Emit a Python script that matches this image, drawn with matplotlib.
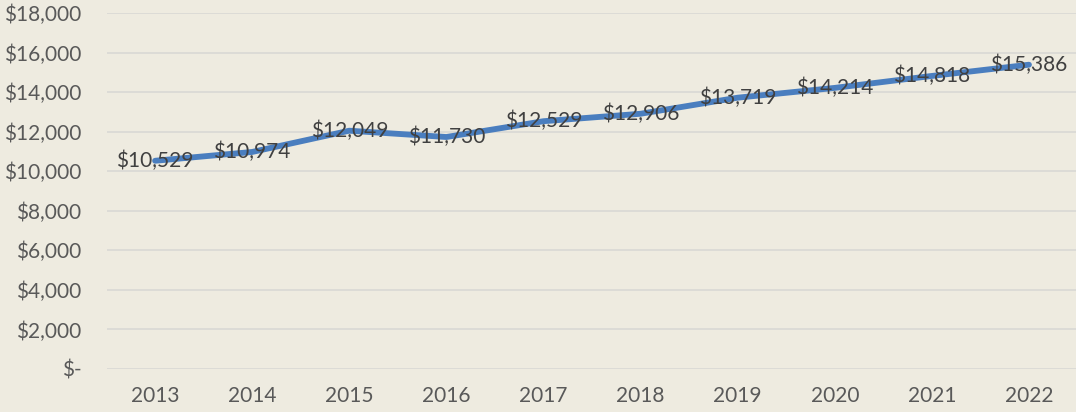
import matplotlib
matplotlib.use("Agg")
import matplotlib.pyplot as plt
from matplotlib.ticker import FuncFormatter

years = ["2013", "2014", "2015", "2016", "2017", "2018", "2019", "2020", "2021", "2022"]
values = [10529, 10974, 12049, 11730, 12529, 12906, 13719, 14214, 14818, 15386]
y_ticks = list(range(0, 18001, 2000))

bg = "#EEEBE0"
plt.rcParams['font.family'] = ['Lato', 'DejaVu Sans']

fig = plt.figure(figsize=(10.76, 4.12), dpi=100, facecolor=bg)
ax = fig.add_axes([0.099, 0.1044, 0.9024, 0.864])
ax.set_facecolor(bg)

x = list(range(len(years)))
ax.plot(x, values, color="#4A7EBF", linewidth=4.2, solid_capstyle="round",
        solid_joinstyle="round", clip_on=False, zorder=3)

# data labels centred on the points
for xi, v in zip(x, values):
    ax.text(xi, v, "${:,}".format(v), ha="center", va="center",
            fontsize=15, color="#404040", zorder=4)

ax.set_xlim(-0.5, len(years) - 0.5)
ax.set_ylim(0, 18000)
ax.set_xticks(x)
ax.set_xticklabels(years)
ax.set_yticks(y_ticks)
ax.yaxis.set_major_formatter(FuncFormatter(lambda v, p: "$-" if v == 0 else "${:,.0f}".format(v)))

ax.grid(axis="y", color="#D9D8D4", linewidth=1.2)
ax.set_axisbelow(True)
for s in ax.spines.values():
    s.set_visible(False)
ax.tick_params(axis="both", length=0, labelsize=15, labelcolor="#595959")
ax.tick_params(axis="y", pad=18)
ax.tick_params(axis="x", pad=12)

fig.savefig("out.png", dpi=100, facecolor=bg)
